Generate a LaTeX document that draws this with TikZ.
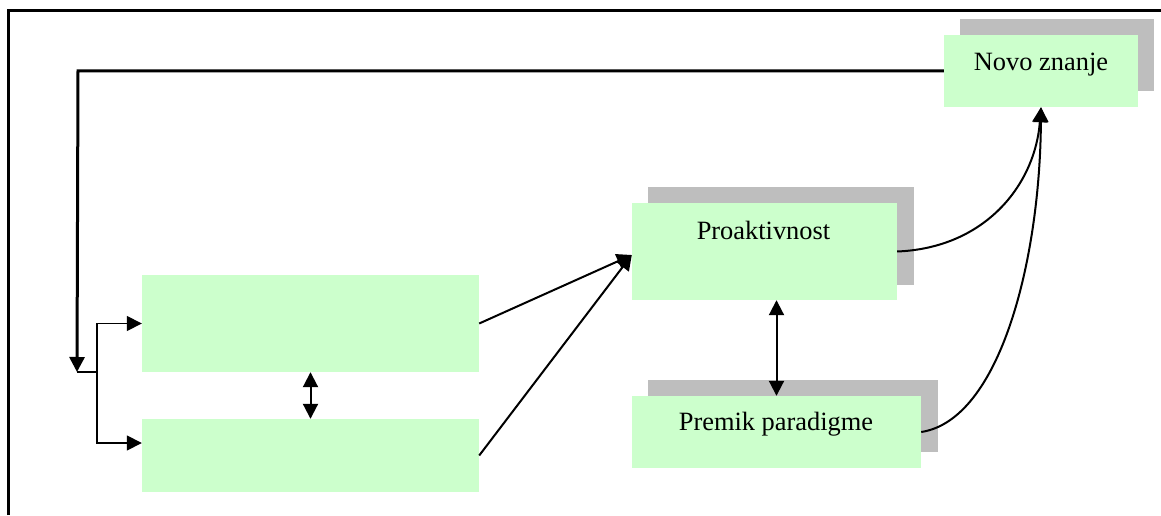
\documentclass[tikz,border=0pt]{standalone}
\usepackage{fontspec}
\setmainfont{Liberation Serif}
\usetikzlibrary{arrows.meta,calc}
\definecolor{boxgreen}{RGB}{204,255,204}
\definecolor{shadowgray}{RGB}{190,190,190}
\begin{document}
\begin{tikzpicture}[x=1pt,y=-1pt,
  greenbox/.style={rectangle,fill=boxgreen,inner sep=0pt,draw=none},
  shadowbox/.style={rectangle,fill=shadowgray,inner sep=0pt,draw=none},
  lbl/.style={anchor=base,inner sep=0pt,font=\fontsize{26.4}{30}\selectfont},
  tip/.style={-{Triangle[length=15pt,width=15pt]}},
  dtip/.style={{Triangle[length=15pt,width=15pt]}-{Triangle[length=15pt,width=15pt]}},
  conn/.style={line width=2pt},
  thinconn/.style={line width=1.6pt},
  heavy/.style={line width=3pt}]
\useasboundingbox (0,0) rectangle (1161,516);

% outer frame (left and top edges)
\draw[heavy] (8,515) -- (8,11) -- (1161,11);

% shadows behind the result boxes
\node[shadowbox,minimum width=194pt,minimum height=72pt] (novs) at (1057,55) {};
\node[shadowbox,minimum width=266pt,minimum height=98pt] (pros) at (781,236) {};
\node[shadowbox,minimum width=290pt,minimum height=72pt] (pres) at (793,416) {};

% boxes
\node[greenbox,minimum width=337pt,minimum height=97pt] (b1) at (310.5,323.5) {};
\node[greenbox,minimum width=337pt,minimum height=73pt] (b2) at (310.5,455.5) {};
\node[greenbox,minimum width=265pt,minimum height=97pt] (pro) at (764.5,251.5) {};
\node[greenbox,minimum width=289pt,minimum height=72pt] (pre) at (776.5,432) {};
\node[greenbox,minimum width=194pt,minimum height=72pt] (nov) at (1041,71) {};

% labels
\node[lbl] (prot) at (763.5,239) {Proaktivnost};
\node[lbl] (pret) at (776,430) {Premik paradigme};
\node[lbl] (novt) at (1041,71) {Novo znanje};

% feedback loop from the new knowledge back to the start
\coordinate (fb) at (77,372);
\coordinate (br) at (97,372);
\draw[heavy,tip] (nov.west) -- (78,71) -- (fb);
\draw[thinconn] (fb) -- (br);
\draw[thinconn,tip] (br) |- (b1.west);
\draw[thinconn,tip] (br) |- ([yshift=12.5pt]b2.west);

% links between the boxes
\draw[conn,dtip] (b1.south) -- (b2.north);
\draw[conn,tip] (b1.east) -- ([yshift=-3.5pt]pro.west);
\draw[conn,tip] (b2.east) -- ([yshift=-3.5pt]pro.west);
\draw[conn,dtip] (pro.south -| pre.north) -- (pre.north);

% curved links to the new knowledge
\draw[conn,tip] (pro.east) .. controls (985,248) and (1035,185) .. (nov.south);
\draw[conn,tip] (pre.east) .. controls (1000,420) and (1040,260) .. (nov.south);
\end{tikzpicture}
\end{document}
